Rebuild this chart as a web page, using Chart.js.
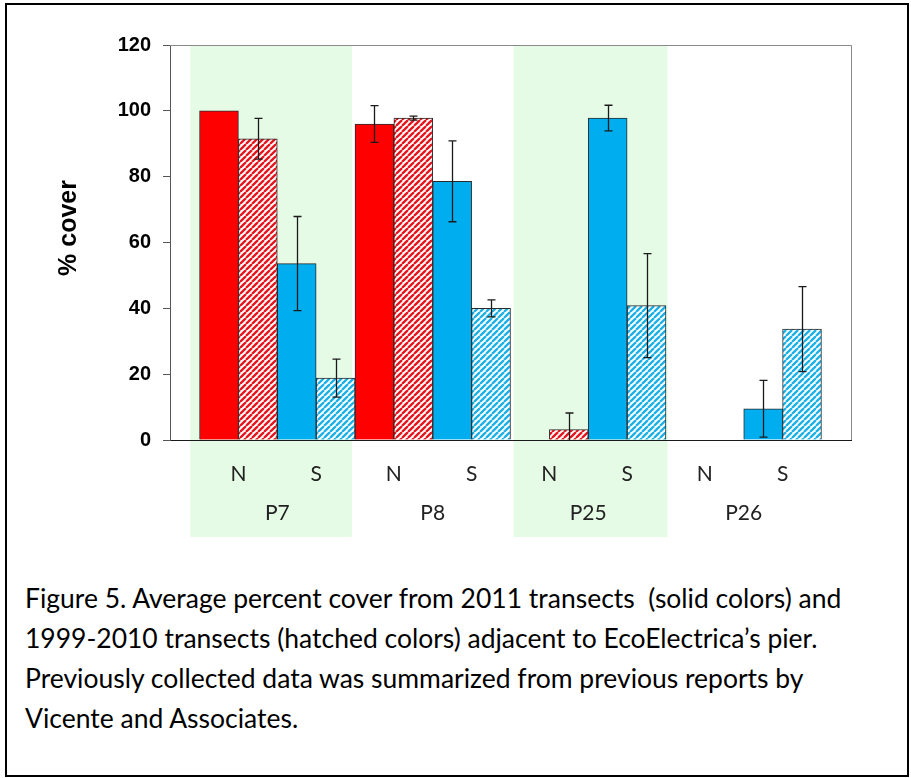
<!DOCTYPE html>
<html>
<head>
<meta charset="utf-8">
<script src="https://cdn.jsdelivr.net/npm/chart.js@4.4.0/dist/chart.umd.min.js"></script>
<style>
  html, body { margin: 0; padding: 0; background: #fff; }
  #page { position: relative; width: 911px; height: 778px; overflow: hidden; }
  #frame { position: absolute; left: 5px; top: 3px; width: 904px; height: 774px;
           box-sizing: border-box; border: 2px solid #000; }
  #chart { position: absolute; left: 0; top: 0; }
  #caption { position: absolute; left: 25px; top: 578px; font-family: Lato, 'Open Sans', sans-serif;
             font-size: 23px; line-height: 40px; color: #000; white-space: pre; }
</style>
</head>
<body>
<div id="page">
  <div id="frame"></div>
  <canvas id="chart" width="911" height="560"></canvas>
  <div id="caption"></div>
</div>
<script>
// Sites along the pier and the two sides sampled at each
const sites = ['P7', 'P8', 'P25', 'P26'];
const sideLabels = ['N', 'S'];
const yTicks = [0, 20, 40, 60, 80, 100, 120];

// Mean % cover and error (one SD) per site
const north2011     = [100, 96, 0, 0];
const north2011Err  = [0, 5.6, 0, 0];
const northPrev     = [91.5, 97.8, 3.2, 0];
const northPrevErr  = [6.2, 0.6, 5, 0];
const south2011     = [53.6, 78.6, 97.8, 9.5];
const south2011Err  = [14.3, 12.3, 3.9, 8.6];
const southPrev     = [18.8, 40, 40.8, 33.7];
const southPrevErr  = [5.8, 2.6, 15.8, 12.9];

const captionLines = [
  'Figure 5. Average percent cover from 2011 transects  (solid colors) and',
  '1999-2010 transects (hatched colors) adjacent to EcoElectrica\u2019s pier.',
  'Previously collected data was summarized from previous reports by',
  'Vicente and Associates.'
];

// Diagonal hatch fill for the 1999-2010 series
function hatch(color) {
  const s = 6;
  const c = document.createElement('canvas');
  c.width = c.height = s;
  const g = c.getContext('2d');
  g.fillStyle = '#ffffff';
  g.fillRect(0, 0, s, s);
  g.strokeStyle = color;
  g.lineWidth = 2.3;
  g.beginPath();
  for (const o of [-s, 0, s]) { g.moveTo(o, s); g.lineTo(o + s, 0); }
  g.stroke();
  return g.createPattern(c, 'repeat');
}

const RED = '#ff0000';
const BLUE = '#00aeef';

const series = [
  { label: 'North 2011',      values: north2011, errors: north2011Err, fill: RED },
  { label: 'North 1999-2010', values: northPrev, errors: northPrevErr, fill: hatch('#e8141c') },
  { label: 'South 2011',      values: south2011, errors: south2011Err, fill: BLUE },
  { label: 'South 1999-2010', values: southPrev, errors: southPrevErr, fill: hatch('#1ab0e8') }
];

// Shaded site bands (offsets in site units around the site position)
const bandSpans = [ { site: 0, from: -0.56, to: 0.48 }, { site: 2, from: -0.48, to: 0.51 } ];

const backdropPlugin = {
  id: 'backdrop',
  beforeDraw(chart) {
    const { ctx, scales: { x } } = chart;
    ctx.save();
    ctx.fillStyle = '#e6fbe6';
    bandSpans.forEach(b => {
      const x0 = x.getPixelForValue(b.site + b.from);
      const x1 = x.getPixelForValue(b.site + b.to);
      ctx.fillRect(x0, 46, x1 - x0, 537 - 46);
    });
    ctx.restore();
  },
  beforeDatasetsDraw(chart) {
    const { ctx, chartArea: a } = chart;
    ctx.save();
    ctx.strokeStyle = '#8a8a8a';
    ctx.lineWidth = 1;
    ctx.beginPath();
    ctx.moveTo(a.left, a.top + 0.5);
    ctx.lineTo(a.right + 0.5, a.top + 0.5);
    ctx.lineTo(a.right + 0.5, a.bottom);
    ctx.stroke();
    ctx.restore();
  }
};

const errorBarPlugin = {
  id: 'errorBars',
  afterDatasetsDraw(chart) {
    const { ctx, chartArea: a, scales: { y } } = chart;
    ctx.save();
    ctx.beginPath();
    ctx.rect(a.left, a.top - 2, a.right - a.left, a.bottom - a.top + 2);
    ctx.clip();
    ctx.strokeStyle = '#1a1a1a';
    ctx.lineWidth = 1.3;
    chart.data.datasets.forEach((ds, di) => {
      const meta = chart.getDatasetMeta(di);
      meta.data.forEach((bar, i) => {
        const e = ds.errors[i];
        if (!e) return;
        const v = ds.data[i].y;
        const yt = y.getPixelForValue(v + e);
        const yb = y.getPixelForValue(v - e);
        const cx = Math.round(bar.x) + 0.5;
        ctx.beginPath();
        ctx.moveTo(cx, yt); ctx.lineTo(cx, yb);
        ctx.moveTo(cx - 4, yt); ctx.lineTo(cx + 4, yt);
        ctx.moveTo(cx - 4, yb); ctx.lineTo(cx + 4, yb);
        ctx.stroke();
      });
    });
    ctx.restore();
  },
  afterDraw(chart) {
    const { ctx } = chart;
    ctx.save();
    ctx.translate(69, 228);
    ctx.rotate(-Math.PI / 2);
    ctx.font = "bold 25px 'Liberation Sans', Arial, sans-serif";
    ctx.fillStyle = '#000';
    ctx.textAlign = 'center';
    ctx.textBaseline = 'middle';
    ctx.fillText('% cover', 0, 0);
    ctx.restore();
  }
};

const labelFont = { family: "Lato, 'Open Sans', sans-serif", size: 21 };
const X_MIN = -0.69, X_MAX = 3.69;

new Chart(document.getElementById('chart'), {
  type: 'bar',
  data: {
    datasets: series.map(s => ({
      label: s.label,
      data: s.values.map((v, i) => ({ x: i, y: v })),
      errors: s.errors,
      backgroundColor: s.fill,
      borderColor: '#2a2a2a',
      borderWidth: 1,
      categoryPercentage: 1,
      barPercentage: 1
    }))
  },
  options: {
    responsive: false,
    animation: false,
    events: [],
    layout: { padding: { left: 0, right: 60, top: 45, bottom: 0 } },
    plugins: { legend: { display: false }, tooltip: { enabled: false } },
    scales: {
      // site axis carrying the bars: one tick per site, baseline only
      x: {
        type: 'linear', position: 'bottom', min: X_MIN, max: X_MAX, offset: false, weight: 0,
        grid: { display: false, drawTicks: false, offset: false },
        border: { display: true, color: '#1a1a1a', width: 1 },
        afterBuildTicks: s => { s.ticks = sites.map((_, i) => ({ value: i })); },
        afterFit: s => { s.height = 0; },
        ticks: { display: false }
      },
      // N / S labels under each pair of bars
      xSide: {
        type: 'linear', position: 'bottom', min: X_MIN, max: X_MAX, offset: false, weight: 1,
        grid: { display: false, drawTicks: false },
        border: { display: false },
        afterBuildTicks: s => { s.ticks = sites.flatMap((_, i) => [{ value: i - 0.25 }, { value: i + 0.25 }]); },
        afterFit: s => { s.height = 55; },
        ticks: { autoSkip: false, maxRotation: 0, padding: 22, color: '#222', font: labelFont,
                 callback: (v, i) => sideLabels[i % 2] }
      },
      // site names
      xSite: {
        type: 'linear', position: 'bottom', min: X_MIN, max: X_MAX, offset: false, weight: 2,
        grid: { display: false, drawTicks: false },
        border: { display: false },
        afterBuildTicks: s => { s.ticks = sites.map((_, i) => ({ value: i })); },
        afterFit: s => { s.height = 65; },
        ticks: { autoSkip: false, maxRotation: 0, padding: 6, color: '#222', font: labelFont,
                 callback: (v, i) => sites[i] }
      },
      y: {
        min: 0, max: 120,
        afterBuildTicks: s => { s.ticks = yTicks.map(v => ({ value: v })); },
        afterFit: s => { s.width = 170; },
        grid: { drawOnChartArea: false, drawTicks: true, tickLength: 7, color: '#555' },
        border: { color: '#555' },
        ticks: { padding: 12, color: '#000',
                 font: { family: "'Liberation Sans', Arial, sans-serif", weight: 'bold', size: 20 } }
      }
    }
  },
  plugins: [backdropPlugin, errorBarPlugin]
});

// Caption below the chart, sized so the first line spans the text box
(function () {
  const cap = document.getElementById('caption');
  const g = document.createElement('canvas').getContext('2d');
  g.font = "100px Lato";
  const w = g.measureText(captionLines[0]).width;
  cap.style.fontSize = (100 * 818 / w).toFixed(2) + 'px';
  cap.textContent = captionLines.join('\n');
})();
</script>
</body>
</html>
